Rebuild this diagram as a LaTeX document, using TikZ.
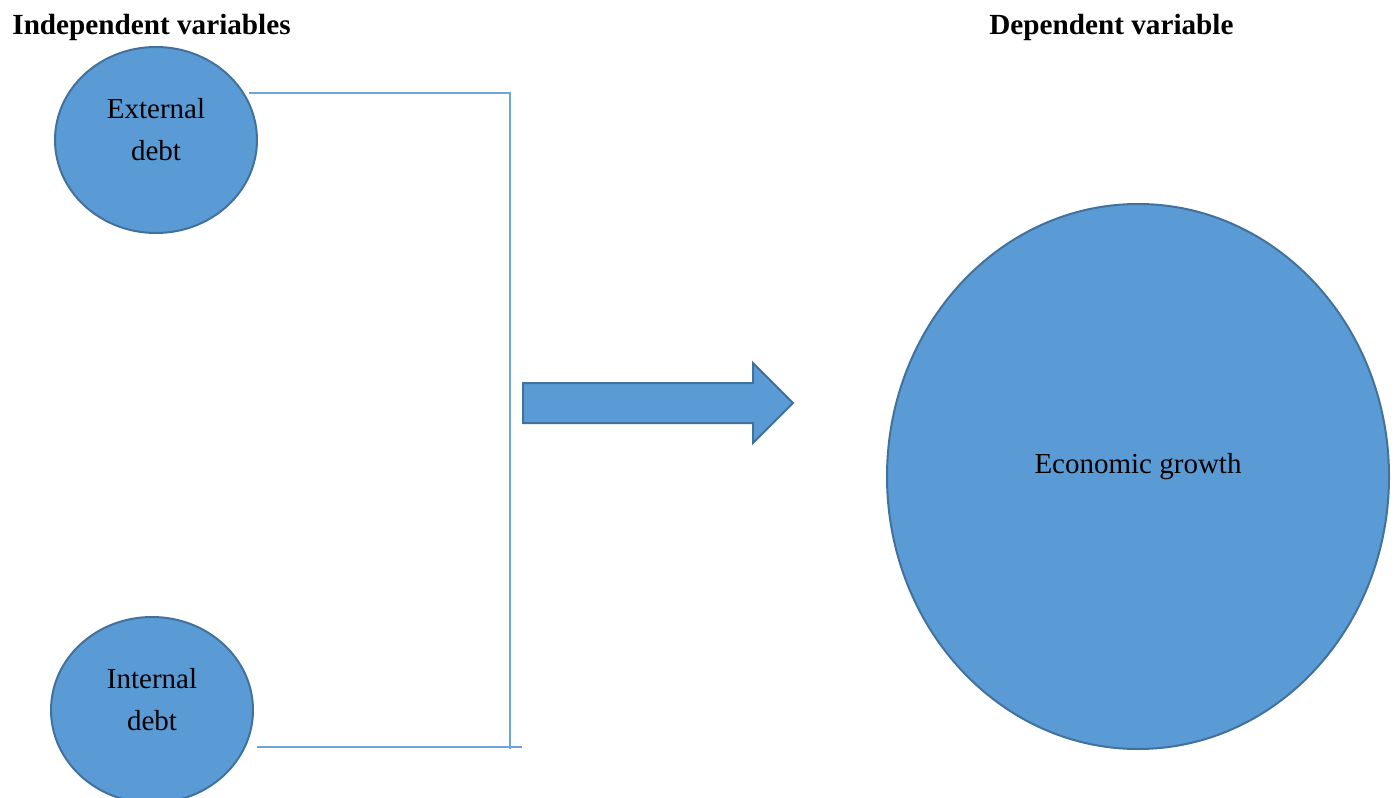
\documentclass[tikz,border=0pt]{standalone}
\usepackage{fontspec}
\setmainfont{Liberation Serif}
\usepackage{tikz}
\usetikzlibrary{shapes,arrows,positioning,calc}
\definecolor{fillblue}{HTML}{5B9BD5}
\definecolor{bordblue}{HTML}{41719C}
\definecolor{lineblue}{HTML}{6FA6DA}

\begin{document}
\begin{tikzpicture}[x=0.5pt,y=-0.5pt,
    var/.style={ellipse, draw=bordblue, line width=1pt, fill=fillblue, inner sep=0pt},
    link/.style={draw=lineblue, line width=0.6pt},
    head/.style={font=\bfseries\fontsize{14.6}{17}\selectfont, anchor=base west, inner sep=0pt},
    lbl/.style={font=\fontsize{14.5}{21}\selectfont, align=center, inner sep=0pt}]
    \useasboundingbox (0,0) rectangle (1396,797);

    % Headings
    \node[head] (indep) at (12,35) {Independent variables};
    \node[head] (dep) at (989,35) {Dependent variable};

    % Independent variables
    \node[var, minimum width=101pt, minimum height=93pt,
        label={[lbl, yshift=5pt]center:{External\\debt}}] (ext) at (156,140) {};
    \node[var, minimum width=101pt, minimum height=93pt,
        label={[lbl, yshift=5pt]center:{Internal\\debt}}] (int) at (152,710) {};

    % Dependent variable
    \node[var, minimum width=251pt, minimum height=272.5pt,
        label={[lbl, yshift=5pt]center:{Economic growth}}] (eco) at (1138,476.5) {};

    % Bracket
    \coordinate (top) at (511,93);
    \coordinate (bot) at (522,747);
    \coordinate (spine) at (510,749);
    \draw[link] ([xshift=2pt]top -| ext.27) -- (top);
    \draw[link] ([xshift=6pt]bot -| int.-22) -- (bot);
    \draw[link] (spine |- top) -- (spine);

    % Block arrow
    \draw[draw=bordblue, line width=1pt, fill=fillblue]
        (523,383) -- (753,383) -- (753,363) -- (793,403) -- (753,443) -- (753,423) -- (523,423) -- cycle;
\end{tikzpicture}
\end{document}
